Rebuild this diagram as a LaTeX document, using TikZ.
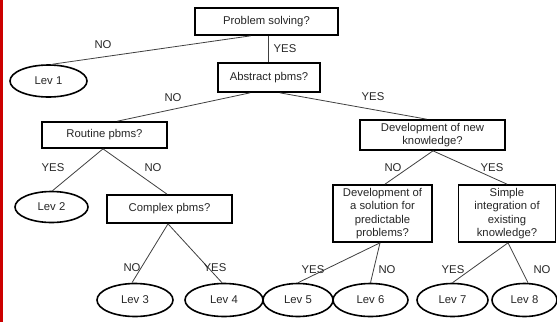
\documentclass[tikz,border=0pt]{standalone}
\usepackage{fontspec}
\setmainfont{Liberation Sans}
\usetikzlibrary{shapes.geometric}
\tikzset{
  qbox/.style={draw=black, line width=1.7pt, inner sep=0pt, align=center, font=\fontsize{11.3}{13.6}\selectfont, text=black!85},
  lev/.style={draw=black, ellipse, line width=1.6pt, inner sep=0pt, minimum height=33pt, font=\fontsize{11.3}{13}\selectfont, text=black!85},
  conn/.style={draw=black!75, line width=0.8pt},
  lbl/.style={inner sep=0pt, font=\fontsize{11.3}{13}\selectfont, text=black!85}
}
\begin{document}
\begin{tikzpicture}[x=1pt,y=-1pt]
\useasboundingbox (0,0) rectangle (557,322);
\fill[white] (0,0) rectangle (557,322);
\fill[red!80!black] (0,0) rectangle (3,322);
% question boxes
\node[qbox, minimum width=143pt, minimum height=27pt] (ps) at (266.5,21.5) {Problem solving?};
\node[qbox, minimum width=102pt, minimum height=29pt] (abs) at (269,77.5) {Abstract pbms?};
\node[qbox, minimum width=125pt, minimum height=26pt] (rout) at (104.5,135) {Routine pbms?};
\node[qbox, minimum width=145pt, minimum height=30pt] (dnk) at (432.5,135) {Development of new\\knowledge?};
\node[qbox, minimum width=125pt, minimum height=28pt] (cplx) at (169.5,209) {Complex pbms?};
\node[qbox, minimum width=99pt, minimum height=57pt] (dsol) at (382.5,213.5) {Development of\\a solution for\\predictable\\problems?};
\node[qbox, minimum width=97pt, minimum height=57pt] (sint) at (507,213.5) {Simple\\integration of\\existing\\knowledge?};
% levels
\node[lev, minimum width=77pt, minimum height=32pt] (l1) at (48.5,81) {Lev 1};
\node[lev, minimum width=73pt, minimum height=31pt] (l2) at (51.5,207) {Lev 2};
\node[lev, minimum width=76pt] (l3) at (135,300) {Lev 3};
\node[lev, minimum width=78pt] (l4) at (224,300) {Lev 4};
\node[lev, minimum width=70pt] (l5) at (298,300) {Lev 5};
\node[lev, minimum width=75pt] (l6) at (370.5,300) {Lev 6};
\node[lev, minimum width=71pt] (l7) at (452.5,300) {Lev 7};
\node[lev, minimum width=65pt] (l8) at (524.5,300) {Lev 8};
% connectors
\draw[conn] ([xshift=-16pt]ps.south) -- ([xshift=4pt]l1.north);
\draw[conn] ([xshift=1.5pt]ps.south) -- ([xshift=-1pt]abs.north);
\draw[conn] ([xshift=-19pt]abs.south) -- ([xshift=13pt]rout.north);
\draw[conn] ([xshift=11pt]abs.south) -- ([xshift=-6pt]dnk.north);
\draw[conn] ([xshift=-1.5pt]rout.south) -- ([xshift=1pt]l2.north);
\draw[conn] ([xshift=-1.5pt]rout.south) -- ([xshift=-2.5pt]cplx.north);
\draw[conn] ([xshift=-1.5pt]cplx.south) -- ([xshift=-3pt]l3.north);
\draw[conn] ([xshift=-1.5pt]cplx.south) -- ([xshift=-2pt]l4.north);
\draw[conn] ([xshift=0.5pt]dnk.south) -- ([xshift=2.5pt]dsol.north);
\draw[conn] ([xshift=0.5pt]dnk.south) -- (sint.north);
\draw[conn] ([xshift=-2.5pt]dsol.south) -- (l5.north);
\draw[conn] ([xshift=-2.5pt]dsol.south) -- (l6.north);
\draw[conn] ([xshift=1pt]sint.south) -- (l7.north);
\draw[conn] ([xshift=1pt]sint.south) -- ([xshift=3.5pt]l8.north);
% labels
\node[lbl] (t1) at (103,45) {NO};
\node[lbl] (t2) at (285,49) {YES};
\node[lbl] (t3) at (173,98) {NO};
\node[lbl] (t4) at (373,97) {YES};
\node[lbl] (t5) at (53,168) {YES};
\node[lbl] (t6) at (153,168) {NO};
\node[lbl] (t7) at (393,168) {NO};
\node[lbl] (t8) at (492,168) {YES};
\node[lbl] (t9) at (132,268) {NO};
\node[lbl] (t10) at (215,268) {YES};
\node[lbl] (t11) at (313,270) {YES};
\node[lbl] (t12) at (387,270) {NO};
\node[lbl] (t13) at (453,270) {YES};
\node[lbl] (t14) at (542,270) {NO};
\end{tikzpicture}
\end{document}
